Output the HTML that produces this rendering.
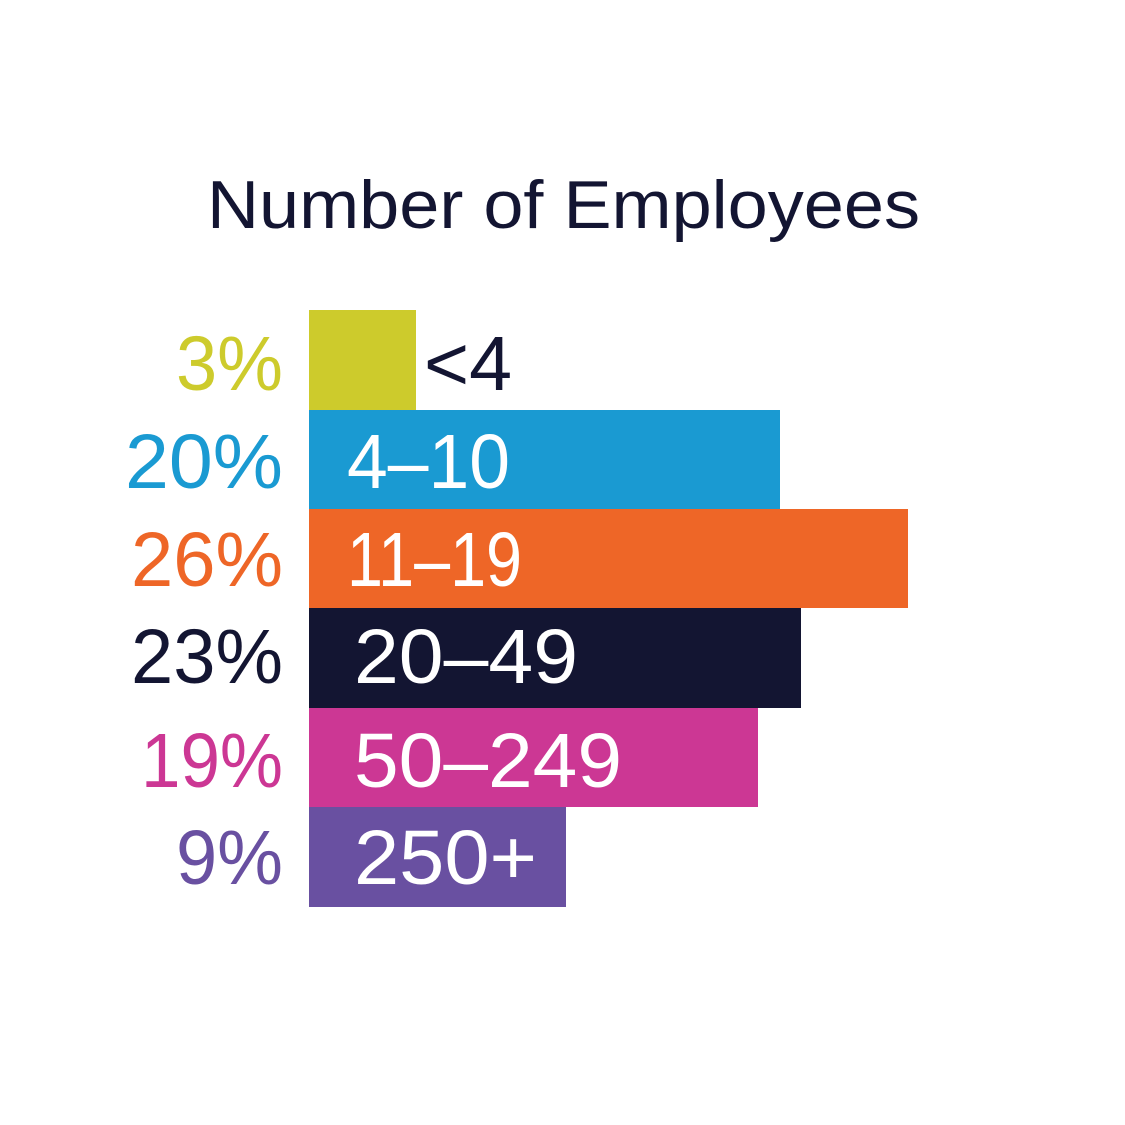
<!DOCTYPE html>
<html><head><meta charset="utf-8"><style>
html,body{margin:0;padding:0;background:#fff;}
svg{display:block;}
text{font-family:"Liberation Sans",sans-serif;}
</style></head><body>
<svg width="1125" height="1125" viewBox="0 0 1125 1125" xmlns="http://www.w3.org/2000/svg">
<rect width="1125" height="1125" fill="#fff"/>
<text x="207" y="228" font-size="68" fill="#131532" textLength="713" lengthAdjust="spacingAndGlyphs">Number of Employees</text>
<rect x="309" y="310" width="107" height="100" fill="#CDCB2C"/>
<rect x="309" y="410" width="471" height="99" fill="#1A9AD2"/>
<rect x="309" y="509" width="599" height="99" fill="#EE6627"/>
<rect x="309" y="608" width="492" height="100" fill="#131532"/>
<rect x="309" y="708" width="449" height="99" fill="#CC3794"/>
<rect x="309" y="807" width="257" height="100" fill="#6950A1"/>
<g font-size="77">
<text x="176" y="390" fill="#CDCB2C" textLength="107" lengthAdjust="spacingAndGlyphs">3%</text>
<text x="125" y="488" fill="#1A9AD2" textLength="158" lengthAdjust="spacingAndGlyphs">20%</text>
<text x="131" y="586" fill="#EE6627" textLength="152" lengthAdjust="spacingAndGlyphs">26%</text>
<text x="131" y="683" fill="#131532" textLength="152" lengthAdjust="spacingAndGlyphs">23%</text>
<text x="141" y="787" fill="#CC3794" textLength="142" lengthAdjust="spacingAndGlyphs">19%</text>
<text x="176" y="884" fill="#6950A1" textLength="107" lengthAdjust="spacingAndGlyphs">9%</text>
<text x="424" y="390" fill="#131532" textLength="88" lengthAdjust="spacingAndGlyphs">&lt;4</text>
<text x="347" y="488" fill="#fff" textLength="163" lengthAdjust="spacingAndGlyphs">4–10</text>
<text x="347" y="586" fill="#fff" textLength="175" lengthAdjust="spacingAndGlyphs">11–19</text>
<text x="354" y="683" fill="#fff" textLength="224" lengthAdjust="spacingAndGlyphs">20–49</text>
<text x="354" y="787" fill="#fff" textLength="268" lengthAdjust="spacingAndGlyphs">50–249</text>
<text x="354" y="884" fill="#fff" textLength="183" lengthAdjust="spacingAndGlyphs">250+</text>
</g>
</svg>
</body></html>
